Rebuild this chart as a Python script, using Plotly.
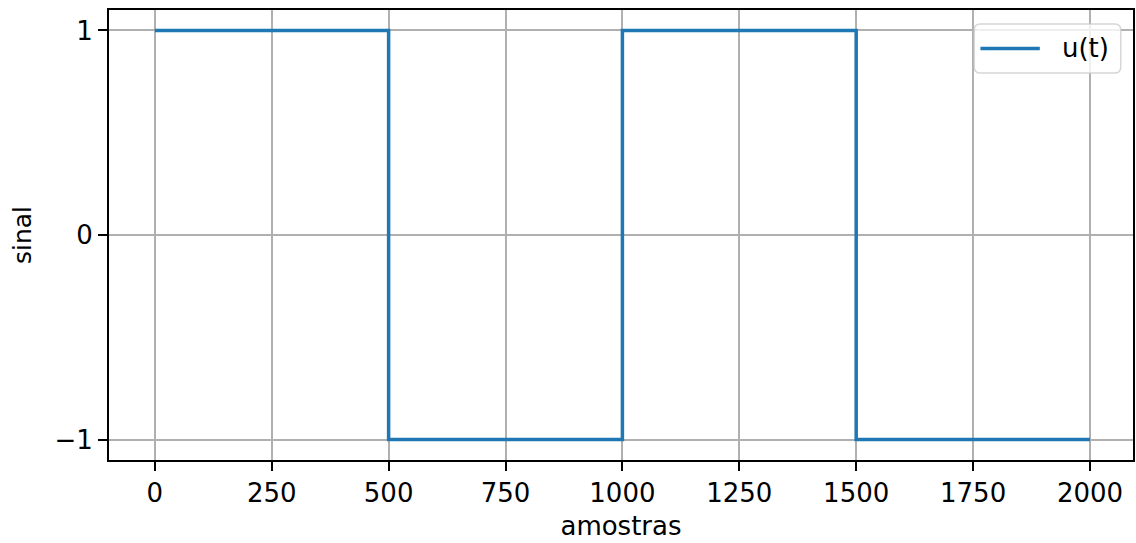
import plotly.graph_objects as go

# data
samples = [0, 500, 1000, 1500, 2000]
signal = [1, -1, 1, -1, -1]
series_name = "u(t)"
x_ticks = [0, 250, 500, 750, 1000, 1250, 1500, 1750, 2000]
y_ticks = [-1, 0, 1]
y_tick_text = ["\u22121", "0", "1"]

FONT = "DejaVu Sans"
LINE_COLOR = "#1f77b4"
fig = go.Figure()
fig.add_trace(go.Scatter(
    x=samples, y=signal, mode="lines", name=series_name,
    line=dict(color=LINE_COLOR, width=3.5, shape="hv"),
    showlegend=False,
))

axis_common = dict(
    showline=True, linecolor="black", linewidth=2, mirror=True,
    ticks="outside", ticklen=9, tickwidth=2, tickcolor="black",
    showgrid=True, gridcolor="#b0b0b0", gridwidth=2,
    zeroline=False,
    tickfont=dict(family=FONT, size=26, color="black"),
)

# legend drawn in axis-domain coordinates (matplotlib-like rounded frame)
lx0, lx1, ly0, ly1 = 0.845, 0.988, 0.860, 0.969
rx, ry = 0.006, 0.013
legend_path = (
    f"M{lx0+rx},{ly1} L{lx1-rx},{ly1} Q{lx1},{ly1} {lx1},{ly1-ry} "
    f"L{lx1},{ly0+ry} Q{lx1},{ly0} {lx1-rx},{ly0} "
    f"L{lx0+rx},{ly0} Q{lx0},{ly0} {lx0},{ly0+ry} "
    f"L{lx0},{ly1-ry} Q{lx0},{ly1} {lx0+rx},{ly1} Z"
)
ly_mid = (ly0 + ly1) / 2

fig.update_layout(
    width=1136, height=543,
    margin=dict(l=109, r=1, t=10, b=83),
    paper_bgcolor="white", plot_bgcolor="white",
    font=dict(family=FONT, size=26, color="black"),
    xaxis=dict(range=[-98, 2092], tickvals=x_ticks,
               title=dict(text="amostras", font=dict(family=FONT, size=26), standoff=10),
               **axis_common),
    yaxis=dict(range=[-1.1, 1.1], tickvals=y_ticks, ticktext=y_tick_text,
               title=dict(text="sinal", font=dict(family=FONT, size=25), standoff=16),
               **axis_common),
    showlegend=False,
    shapes=[
        dict(type="path", path=legend_path, xref="x domain", yref="y domain",
             fillcolor="rgba(255,255,255,0.8)", line=dict(color="rgba(204,204,204,0.8)", width=1.5),
             layer="above"),
        dict(type="line", xref="x domain", yref="y domain",
             x0=0.851, x1=0.909, y0=ly_mid, y1=ly_mid,
             line=dict(color=LINE_COLOR, width=3.5), layer="above"),
    ],
    annotations=[
        dict(text=series_name, xref="x domain", yref="y domain", x=0.929, y=ly_mid,
             xanchor="left", yanchor="middle", showarrow=False,
             font=dict(family=FONT, size=26, color="black")),
    ],
)

fig.write_html("out.html")
